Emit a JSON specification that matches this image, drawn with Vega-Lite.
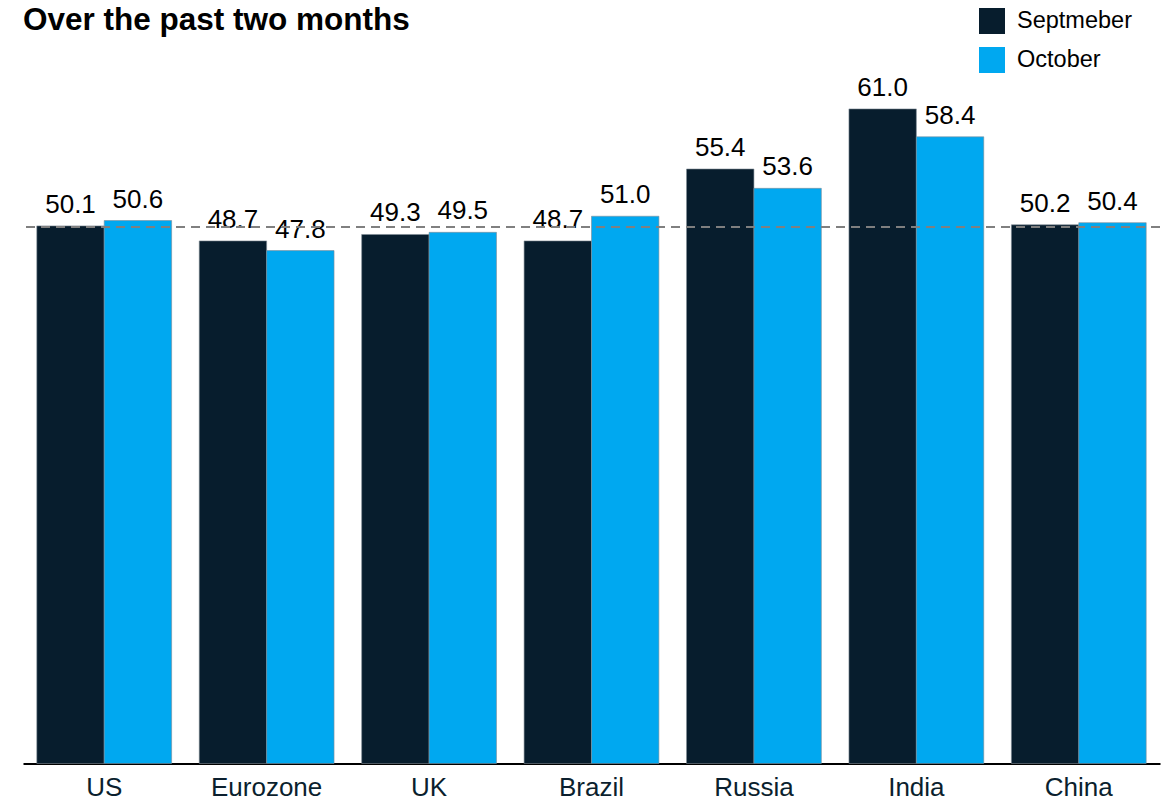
{
  "$schema": "https://vega.github.io/schema/vega-lite/v6.json",
  "width": 1137,
  "height": 697.5,
  "autosize": {"type": "none"},
  "padding": {"left": 23, "top": 66, "right": 6, "bottom": 40},
  "background": "white",
  "title": {
    "text": "Over the past two months",
    "anchor": "start",
    "frame": "group",
    "orient": "top",
    "baseline": "alphabetic",
    "offset": 0,
    "dy": 53,
    "font": "Liberation Sans",
    "fontSize": 31.5,
    "fontWeight": "bold",
    "color": "#000000"
  },
  "config": {
    "view": {"stroke": null},
    "font": "Liberation Sans"
  },
  "data": {
    "values": [
      {"country": "US", "month": "Septmeber", "value": 50.1},
      {"country": "US", "month": "October", "value": 50.6},
      {"country": "Eurozone", "month": "Septmeber", "value": 48.7},
      {"country": "Eurozone", "month": "October", "value": 47.8},
      {"country": "UK", "month": "Septmeber", "value": 49.3},
      {"country": "UK", "month": "October", "value": 49.5},
      {"country": "Brazil", "month": "Septmeber", "value": 48.7},
      {"country": "Brazil", "month": "October", "value": 51.0},
      {"country": "Russia", "month": "Septmeber", "value": 55.4},
      {"country": "Russia", "month": "October", "value": 53.6},
      {"country": "India", "month": "Septmeber", "value": 61.0},
      {"country": "India", "month": "October", "value": 58.4},
      {"country": "China", "month": "Septmeber", "value": 50.2},
      {"country": "China", "month": "October", "value": 50.4}
    ]
  },
  "encoding": {
    "x": {
      "field": "country",
      "type": "nominal",
      "sort": null,
      "scale": {"paddingInner": 0.17, "paddingOuter": 0.085},
      "axis": {
        "title": null,
        "labelAngle": 0,
        "ticks": false,
        "domainColor": "#000000",
        "domainWidth": 2,
        "labelFontSize": 26,
        "labelColor": "#0b1f2e",
        "labelPadding": 11,
        "labelFont": "Liberation Sans"
      }
    },
    "xOffset": {
      "field": "month",
      "type": "nominal",
      "sort": ["Septmeber", "October"],
      "scale": {"paddingInner": 0, "paddingOuter": 0}
    },
    "y": {
      "field": "value",
      "type": "quantitative",
      "scale": {"domain": [0, 65], "nice": false, "zero": true},
      "axis": null
    }
  },
  "layer": [
    {
      "mark": {"type": "bar", "stroke": "#7f8c96", "strokeWidth": 0.6},
      "encoding": {
        "color": {
          "field": "month",
          "type": "nominal",
          "scale": {"domain": ["Septmeber", "October"], "range": ["#071d2d", "#00a8f0"]},
          "legend": {
            "title": null,
            "orient": "none",
            "legendX": 956,
            "legendY": -58,
            "padding": 0,
            "symbolType": "square",
            "symbolSize": 676,
            "symbolStrokeWidth": 0,
            "rowPadding": 13,
            "labelFontSize": 23.5,
            "labelColor": "#000000",
            "labelOffset": 12,
            "labelFont": "Liberation Sans"
          }
        }
      }
    },
    {
      "mark": {
        "type": "text",
        "baseline": "alphabetic",
        "dy": -13,
        "fontSize": 26,
        "color": "#000000",
        "font": "Liberation Sans"
      },
      "encoding": {
        "text": {"field": "value", "type": "quantitative", "format": ".1f"}
      }
    },
    {
      "mark": {"type": "rule", "color": "#808080", "strokeWidth": 1.5, "strokeDash": [9, 6]},
      "encoding": {
        "y": {"datum": 50},
        "x": null,
        "xOffset": null
      }
    }
  ]
}
